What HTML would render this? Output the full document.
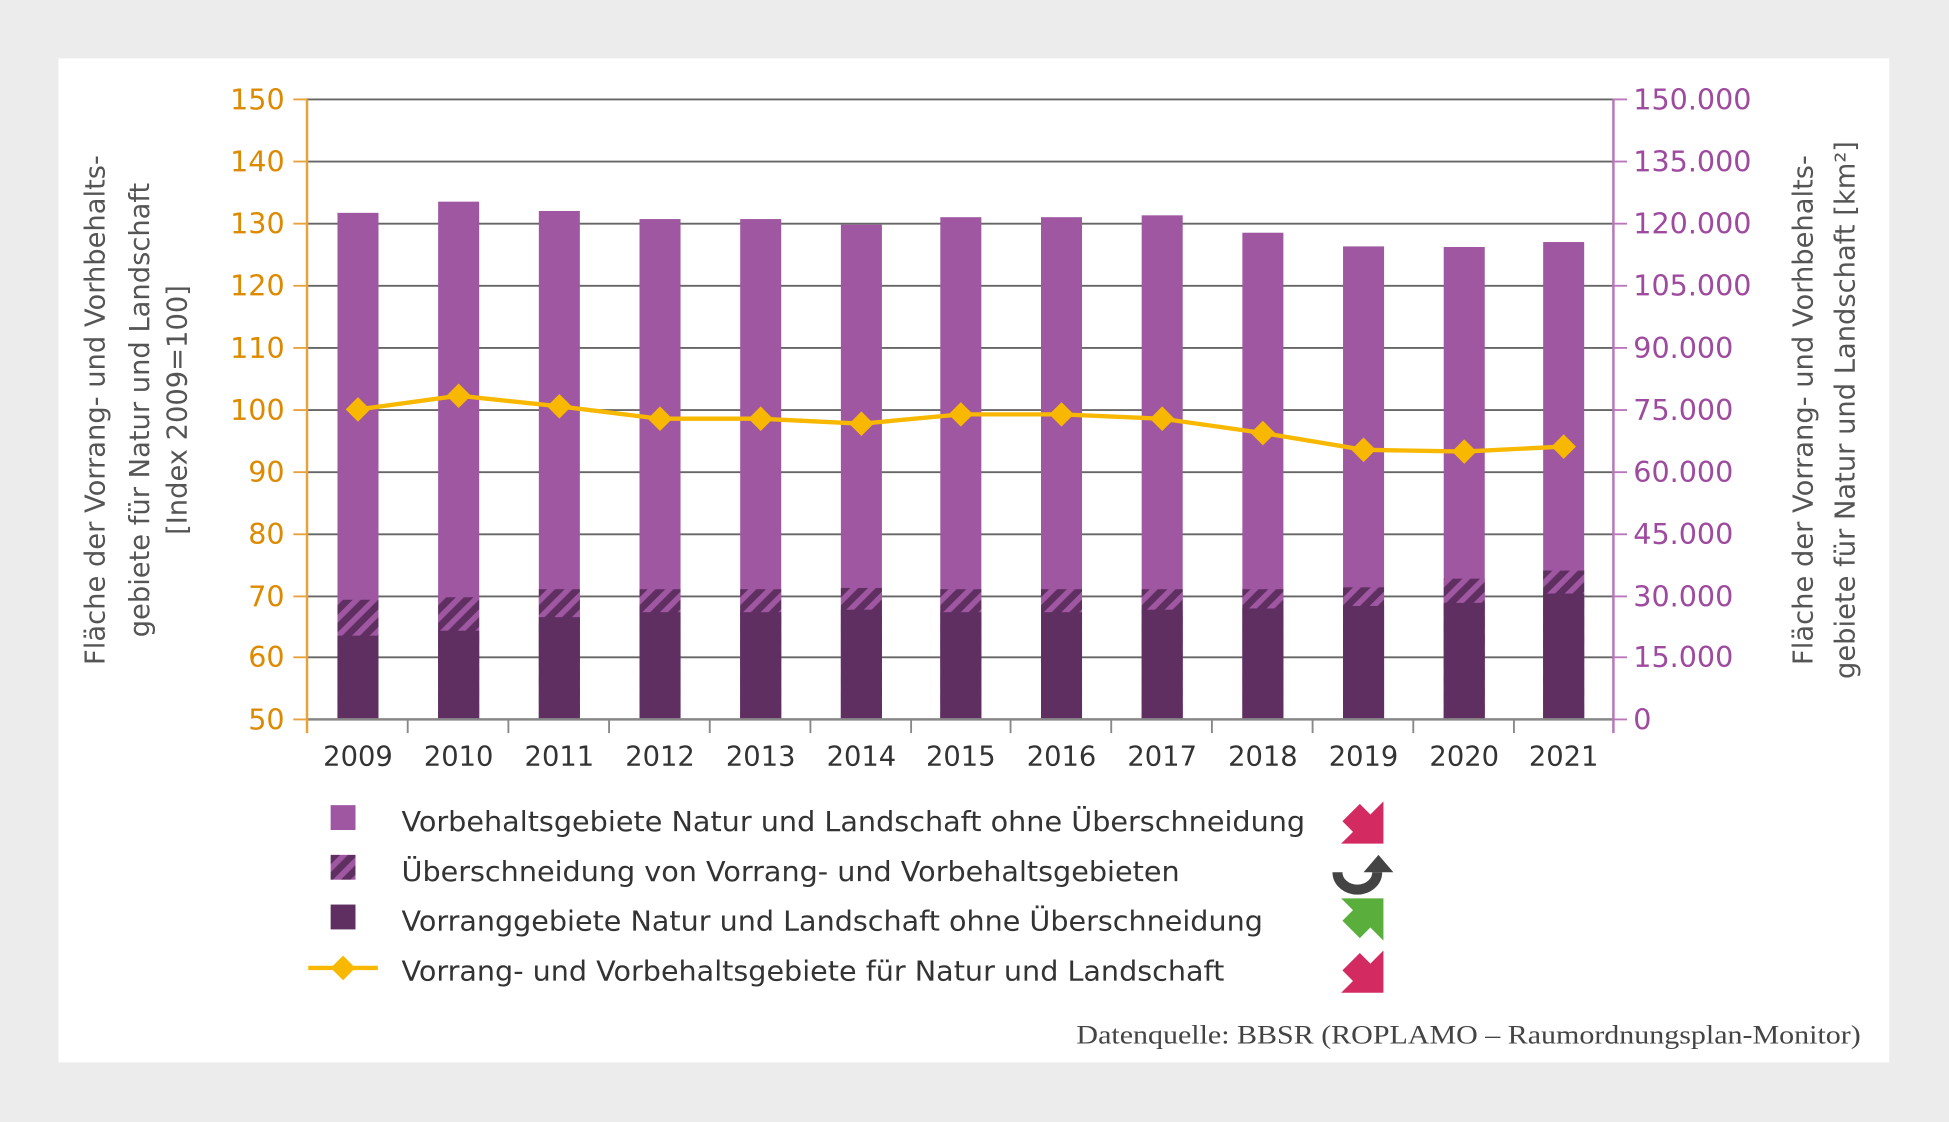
<!DOCTYPE html>
<html><head><meta charset="utf-8"><style>html,body{margin:0;padding:0;background:#ececec}svg{display:block}</style></head><body>
<svg width="1949" height="1122" viewBox="0 0 1568 903" preserveAspectRatio="none" xmlns="http://www.w3.org/2000/svg" font-family="'DejaVu Sans','Liberation Sans',sans-serif">
<defs>
<pattern id="h" width="10" height="10" patternUnits="userSpaceOnUse" patternTransform="rotate(45)">
<rect width="10" height="10" fill="#5f2f62"/><rect width="4.5" height="10" fill="#9e57a0"/>
</pattern>
</defs>
<rect x="0" y="0" width="1568" height="903" fill="#ececec"/>
<rect x="47" y="47" width="1473" height="808" fill="#fff"/>
<g stroke="#666" stroke-width="1.5">
<line x1="247" y1="80" x2="1298" y2="80"/><line x1="247" y1="130" x2="1298" y2="130"/><line x1="247" y1="180" x2="1298" y2="180"/><line x1="247" y1="230" x2="1298" y2="230"/><line x1="247" y1="280" x2="1298" y2="280"/><line x1="247" y1="330" x2="1298" y2="330"/><line x1="247" y1="380" x2="1298" y2="380"/><line x1="247" y1="430" x2="1298" y2="430"/><line x1="247" y1="480" x2="1298" y2="480"/><line x1="247" y1="529" x2="1298" y2="529"/>
</g>
<g id="bars">
<g transform="translate(271.5,0)"><rect y="171.3" width="33" height="407.7" fill="#9e57a0"/><rect y="482.7" width="33" height="96.3" fill="url(#h)"/><rect y="511.6" width="33" height="67.4" fill="#5f2f62"/></g>
<g transform="translate(352.5,0)"><rect y="162.3" width="33" height="416.7" fill="#9e57a0"/><rect y="480.7" width="33" height="98.3" fill="url(#h)"/><rect y="507.6" width="33" height="71.4" fill="#5f2f62"/></g>
<g transform="translate(433.5,0)"><rect y="169.8" width="33" height="409.2" fill="#9e57a0"/><rect y="474.2" width="33" height="104.8" fill="url(#h)"/><rect y="496.7" width="33" height="82.3" fill="#5f2f62"/></g>
<g transform="translate(514.5,0)"><rect y="176.3" width="33" height="402.7" fill="#9e57a0"/><rect y="474.2" width="33" height="104.8" fill="url(#h)"/><rect y="492.7" width="33" height="86.3" fill="#5f2f62"/></g>
<g transform="translate(595.5,0)"><rect y="176.3" width="33" height="402.7" fill="#9e57a0"/><rect y="474.2" width="33" height="104.8" fill="url(#h)"/><rect y="492.7" width="33" height="86.3" fill="#5f2f62"/></g>
<g transform="translate(676.5,0)"><rect y="180.8" width="33" height="398.2" fill="#9e57a0"/><rect y="473.2" width="33" height="105.8" fill="url(#h)"/><rect y="490.7" width="33" height="88.3" fill="#5f2f62"/></g>
<g transform="translate(756.5,0)"><rect y="174.8" width="33" height="404.2" fill="#9e57a0"/><rect y="474.2" width="33" height="104.8" fill="url(#h)"/><rect y="492.7" width="33" height="86.3" fill="#5f2f62"/></g>
<g transform="translate(837.5,0)"><rect y="174.8" width="33" height="404.2" fill="#9e57a0"/><rect y="474.2" width="33" height="104.8" fill="url(#h)"/><rect y="492.7" width="33" height="86.3" fill="#5f2f62"/></g>
<g transform="translate(918.5,0)"><rect y="173.3" width="33" height="405.7" fill="#9e57a0"/><rect y="474.2" width="33" height="104.8" fill="url(#h)"/><rect y="490.7" width="33" height="88.3" fill="#5f2f62"/></g>
<g transform="translate(999.5,0)"><rect y="187.3" width="33" height="391.7" fill="#9e57a0"/><rect y="474.2" width="33" height="104.8" fill="url(#h)"/><rect y="489.7" width="33" height="89.3" fill="#5f2f62"/></g>
<g transform="translate(1080.5,0)"><rect y="198.3" width="33" height="380.7" fill="#9e57a0"/><rect y="472.7" width="33" height="106.3" fill="url(#h)"/><rect y="487.7" width="33" height="91.3" fill="#5f2f62"/></g>
<g transform="translate(1161.5,0)"><rect y="198.8" width="33" height="380.2" fill="#9e57a0"/><rect y="465.7" width="33" height="113.3" fill="url(#h)"/><rect y="485.2" width="33" height="93.8" fill="#5f2f62"/></g>
<g transform="translate(1241.5,0)"><rect y="194.8" width="33" height="384.2" fill="#9e57a0"/><rect y="459.2" width="33" height="119.8" fill="url(#h)"/><rect y="477.7" width="33" height="101.3" fill="#5f2f62"/></g>
</g>
<line x1="247" y1="579" x2="1298" y2="579" stroke="#888" stroke-width="2"/>
<g stroke="#888" stroke-width="1.5"><line x1="328" y1="579" x2="328" y2="590"/><line x1="409" y1="579" x2="409" y2="590"/><line x1="490" y1="579" x2="490" y2="590"/><line x1="571" y1="579" x2="571" y2="590"/><line x1="652" y1="579" x2="652" y2="590"/><line x1="733" y1="579" x2="733" y2="590"/><line x1="813" y1="579" x2="813" y2="590"/><line x1="894" y1="579" x2="894" y2="590"/><line x1="975" y1="579" x2="975" y2="590"/><line x1="1056" y1="579" x2="1056" y2="590"/><line x1="1137" y1="579" x2="1137" y2="590"/><line x1="1218" y1="579" x2="1218" y2="590"/></g>
<line x1="247" y1="80" x2="247" y2="590" stroke="#e8a23c" stroke-width="2"/>
<g stroke="#e8a23c" stroke-width="1.5"><line x1="236" y1="80" x2="247" y2="80"/><line x1="236" y1="130" x2="247" y2="130"/><line x1="236" y1="180" x2="247" y2="180"/><line x1="236" y1="230" x2="247" y2="230"/><line x1="236" y1="280" x2="247" y2="280"/><line x1="236" y1="330" x2="247" y2="330"/><line x1="236" y1="380" x2="247" y2="380"/><line x1="236" y1="430" x2="247" y2="430"/><line x1="236" y1="480" x2="247" y2="480"/><line x1="236" y1="529" x2="247" y2="529"/><line x1="236" y1="579" x2="247" y2="579"/></g>
<line x1="1298" y1="80" x2="1298" y2="590" stroke="#b877bb" stroke-width="2"/>
<g stroke="#b877bb" stroke-width="1.5"><line x1="1298" y1="80" x2="1309" y2="80"/><line x1="1298" y1="130" x2="1309" y2="130"/><line x1="1298" y1="180" x2="1309" y2="180"/><line x1="1298" y1="230" x2="1309" y2="230"/><line x1="1298" y1="280" x2="1309" y2="280"/><line x1="1298" y1="330" x2="1309" y2="330"/><line x1="1298" y1="380" x2="1309" y2="380"/><line x1="1298" y1="430" x2="1309" y2="430"/><line x1="1298" y1="480" x2="1309" y2="480"/><line x1="1298" y1="529" x2="1309" y2="529"/><line x1="1298" y1="579" x2="1309" y2="579"/></g>
<polyline fill="none" stroke="#f9b800" stroke-width="3.5" points="288,329.5 369,318.5 450,327 531,337 612,337 693,341 773,333.5 854,333.5 935,337 1016,348.5 1097,362 1178,363.4 1258,359.4"/>
<g fill="#f9b800">
<rect x="281" y="322.5" width="14" height="14" transform="rotate(45 288 329.5)"/><rect x="362" y="311.5" width="14" height="14" transform="rotate(45 369 318.5)"/><rect x="443" y="320" width="14" height="14" transform="rotate(45 450 327)"/><rect x="524" y="330" width="14" height="14" transform="rotate(45 531 337)"/><rect x="605" y="330" width="14" height="14" transform="rotate(45 612 337)"/><rect x="686" y="334" width="14" height="14" transform="rotate(45 693 341)"/><rect x="766" y="326.5" width="14" height="14" transform="rotate(45 773 333.5)"/><rect x="847" y="326.5" width="14" height="14" transform="rotate(45 854 333.5)"/><rect x="928" y="330" width="14" height="14" transform="rotate(45 935 337)"/><rect x="1009" y="341.5" width="14" height="14" transform="rotate(45 1016 348.5)"/><rect x="1090" y="355" width="14" height="14" transform="rotate(45 1097 362)"/><rect x="1171" y="356.4" width="14" height="14" transform="rotate(45 1178 363.4)"/><rect x="1251" y="352.4" width="14" height="14" transform="rotate(45 1258 359.4)"/>
</g>
<g fill="#dd8a00" font-size="23" text-anchor="end">
<text x="229" y="88">150</text><text x="229" y="138">140</text><text x="229" y="188">130</text><text x="229" y="238">120</text><text x="229" y="288">110</text><text x="229" y="338">100</text><text x="229" y="388">90</text><text x="229" y="438">80</text><text x="229" y="488">70</text><text x="229" y="537">60</text><text x="229" y="587">50</text>
</g>
<g fill="#9e4a9e" font-size="23" text-anchor="start">
<text x="1314" y="88">150.000</text><text x="1314" y="138">135.000</text><text x="1314" y="188">120.000</text><text x="1314" y="238">105.000</text><text x="1314" y="288">90.000</text><text x="1314" y="338">75.000</text><text x="1314" y="388">60.000</text><text x="1314" y="438">45.000</text><text x="1314" y="488">30.000</text><text x="1314" y="537">15.000</text><text x="1314" y="587">0</text>
</g>
<g fill="#333" font-size="22" text-anchor="middle">
<text x="288" y="616">2009</text><text x="369" y="616">2010</text><text x="450" y="616">2011</text><text x="531" y="616">2012</text><text x="612" y="616">2013</text><text x="693" y="616">2014</text><text x="773" y="616">2015</text><text x="854" y="616">2016</text><text x="935" y="616">2017</text><text x="1016" y="616">2018</text><text x="1097" y="616">2019</text><text x="1178" y="616">2020</text><text x="1258" y="616">2021</text>
</g>
<g fill="#555" font-size="22" text-anchor="middle">
<text transform="translate(84,330) rotate(-90)">Fläche der Vorrang- und Vorhbehalts-</text>
<text transform="translate(120,330) rotate(-90)">gebiete für Natur und Landschaft</text>
<text transform="translate(150,330) rotate(-90)">[Index 2009=100]</text>
<text transform="translate(1458,330) rotate(-90)">Fläche der Vorrang- und Vorhbehalts-</text>
<text transform="translate(1492,330) rotate(-90)">gebiete für Natur und Landschaft [km²]</text>
</g>
<rect x="266" y="648" width="20" height="20" fill="#9e57a0"/>
<rect x="266" y="688" width="20" height="20" fill="url(#h)"/>
<rect x="266" y="728" width="20" height="20" fill="#5f2f62"/>
<line x1="248" y1="779" x2="304" y2="779" stroke="#f9b800" stroke-width="3.5"/>
<rect x="269" y="772" width="14" height="14" fill="#f9b800" transform="rotate(45 276 779)"/>
<g fill="#333" font-size="22">
<text x="323" y="669" textLength="727" lengthAdjust="spacingAndGlyphs">Vorbehaltsgebiete Natur und Landschaft ohne Überschneidung</text>
<text x="323" y="709" textLength="626" lengthAdjust="spacingAndGlyphs">Überschneidung von Vorrang- und Vorbehaltsgebieten</text>
<text x="323" y="749" textLength="693" lengthAdjust="spacingAndGlyphs">Vorranggebiete Natur und Landschaft ohne Überschneidung</text>
<text x="323" y="789" textLength="662" lengthAdjust="spacingAndGlyphs">Vorrang- und Vorbehaltsgebiete für Natur und Landschaft</text>
</g>
<polygon points="1094,647 1102.5,655.5 1113,645 1113,679 1079,679 1088.5,669.5 1080,661" fill="#d42a62"/>
<polygon points="1094,755 1102.5,746.5 1113,757 1113,723 1079,723 1088.5,732.5 1080,741" fill="#5aaf3c"/>
<polygon points="1094,767 1102.5,775.5 1113,765 1113,799 1079,799 1088.5,789.5 1080,781" fill="#d42a62"/>
<path d="M1076,702 A16,14 0 0 0 1108,702" fill="none" stroke="#444" stroke-width="8"/>
<polygon points="1097,702 1109,688 1121,702" fill="#444"/>
<text x="1497" y="840" fill="#444" font-size="21" text-anchor="end" font-family="'Liberation Serif',serif" textLength="631" lengthAdjust="spacingAndGlyphs">Datenquelle: BBSR (ROPLAMO – Raumordnungsplan-Monitor)</text>
</svg>
</body></html>
